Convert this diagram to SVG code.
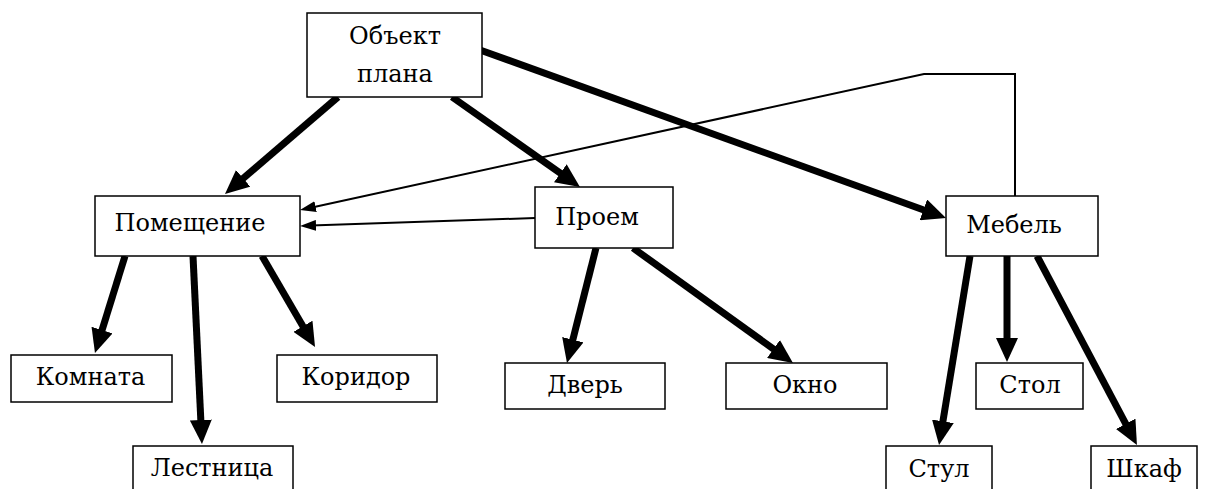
<svg xmlns="http://www.w3.org/2000/svg" width="1206" height="489" viewBox="0 0 1206 489">
<style>
.box{fill:#fff;stroke:#000;stroke-width:1.5}
.lbl{font-family:'DejaVu Serif',serif;font-size:24px;fill:#000;text-anchor:middle}
.thick{stroke:#000;stroke-width:7;fill:none;marker-end:url(#hb)}
.thin{stroke:#000;stroke-width:2;fill:none;marker-end:url(#hs)}
</style>
<defs>
<marker id="hb" markerUnits="userSpaceOnUse" markerWidth="24" markerHeight="22" refX="10" refY="11" orient="auto">
<path d="M0,0 L24,11 L0,22 z" fill="#000"/>
</marker>
<marker id="hs" markerUnits="userSpaceOnUse" markerWidth="16" markerHeight="11" refX="5" refY="5.5" orient="auto">
<path d="M0,0 L16,5.5 L0,11 z" fill="#000"/>
</marker>
</defs>
<rect width="1206" height="489" fill="#fff"/>
<g id="connectors">
<line class="thick" x1="338" y1="97" x2="235.6" y2="184.9"/>
<line class="thick" x1="452" y1="97" x2="568.5" y2="178.9"/>
<line class="thick" x1="480" y1="50" x2="932.8" y2="213.2"/>
<line class="thick" x1="125" y1="256" x2="99.1" y2="339.6"/>
<line class="thick" x1="193" y1="256" x2="201.3" y2="430"/>
<line class="thick" x1="262" y1="256" x2="308" y2="334.9"/>
<line class="thick" x1="596" y1="248" x2="570.4" y2="349.4"/>
<line class="thick" x1="633" y1="248" x2="781.6" y2="354.8"/>
<line class="thick" x1="970" y1="256" x2="941.3" y2="431.2"/>
<line class="thick" x1="1007" y1="256" x2="1007" y2="348"/>
<line class="thick" x1="1037" y1="256" x2="1130.4" y2="432.6"/>
<line class="thin" x1="535" y1="218" x2="311" y2="225.6"/>
<polyline class="thin" points="1015,196 1015,74 924,74 310.7,207.7"/>
</g>
<g id="obj"><rect class="box" x="307" y="13" width="175" height="84"/><text class="lbl" x="395" y="44">Объект</text><text class="lbl" x="395" y="82">плана</text></g>
<g id="pomeshchenie"><rect class="box" x="95" y="196" width="205" height="60"/><text class="lbl" x="190" y="231">Помещение</text></g>
<g id="proem"><rect class="box" x="535" y="187" width="138" height="61"/><text class="lbl" x="597" y="225">Проем</text></g>
<g id="mebel"><rect class="box" x="946" y="196" width="152" height="60"/><text class="lbl" x="1014" y="233">Мебель</text></g>
<g id="komnata"><rect class="box" x="11" y="355" width="161" height="47"/><text class="lbl" x="90.5" y="385">Комната</text></g>
<g id="koridor"><rect class="box" x="277" y="355" width="160" height="47"/><text class="lbl" x="356" y="385">Коридор</text></g>
<g id="lestnica"><rect class="box" x="133" y="446" width="160" height="50"/><text class="lbl" x="212" y="476">Лестница</text></g>
<g id="dver"><rect class="box" x="505" y="363" width="160" height="46"/><text class="lbl" x="585" y="393">Дверь</text></g>
<g id="okno"><rect class="box" x="726" y="363" width="161" height="46"/><text class="lbl" x="805" y="393">Окно</text></g>
<g id="stol"><rect class="box" x="976" y="363" width="107" height="46"/><text class="lbl" x="1030" y="393">Стол</text></g>
<g id="stul"><rect class="box" x="886" y="446" width="106" height="50"/><text class="lbl" x="939" y="477">Стул</text></g>
<g id="shkaf"><rect class="box" x="1091" y="446" width="106" height="50"/><text class="lbl" x="1144" y="477">Шкаф</text></g>
</svg>
